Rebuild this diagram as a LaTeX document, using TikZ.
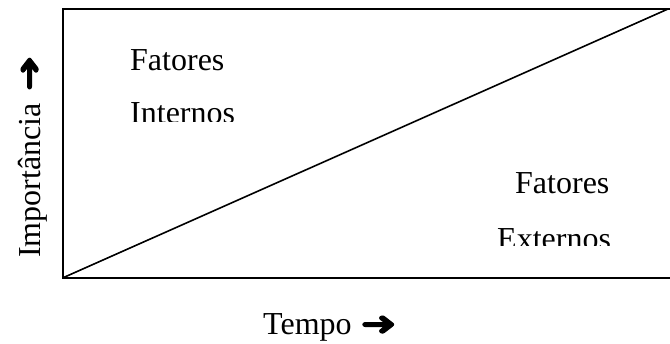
\documentclass[tikz,border=0pt]{standalone}
\usepackage{fontspec}
\usepackage{graphicx}
\setmainfont{Liberation Serif}
\newfontfamily\arrowfont[FakeBold=3]{DejaVu Sans}
\newcommand{\bigarrow}{{\arrowfont\resizebox{36pt}{19pt}{➜}}}
\begin{document}
\begin{tikzpicture}[x=1pt,y=-1pt,
  lbl/.style={font=\fontsize{32}{38}\selectfont, inner sep=0pt, anchor=base west},
  frame/.style={line width=2pt}]
\useasboundingbox (0,0) rectangle (670,344);
\coordinate (tl) at (62.5,9);
\coordinate (bl) at (62.5,278);
\coordinate (tr) at (671,9);
\coordinate (br) at (671,278);
\draw[frame] (tr) -- (tl) -- (bl) -- (br);
\draw[frame, line width=1.6pt] (bl) -- (668,9);
\node[lbl] (f1) at (130,71) {Fatores};
\begin{scope}
\clip (100,85) rectangle (260,122);
\node[lbl] (i1) at (130,124) {Internos};
\end{scope}
\node[lbl] (f2) at (515,194) {Fatores};
\begin{scope}
\clip (480,210) rectangle (640,246);
\node[lbl] (e2) at (497,250) {Externos};
\end{scope}
\node[lbl] (t) at (263,335) {Tempo\hspace{9pt}\bigarrow};
\node[lbl, rotate=90] (imp) at (40,258) {Importância\hspace{12pt}\bigarrow};
\end{tikzpicture}
\end{document}
